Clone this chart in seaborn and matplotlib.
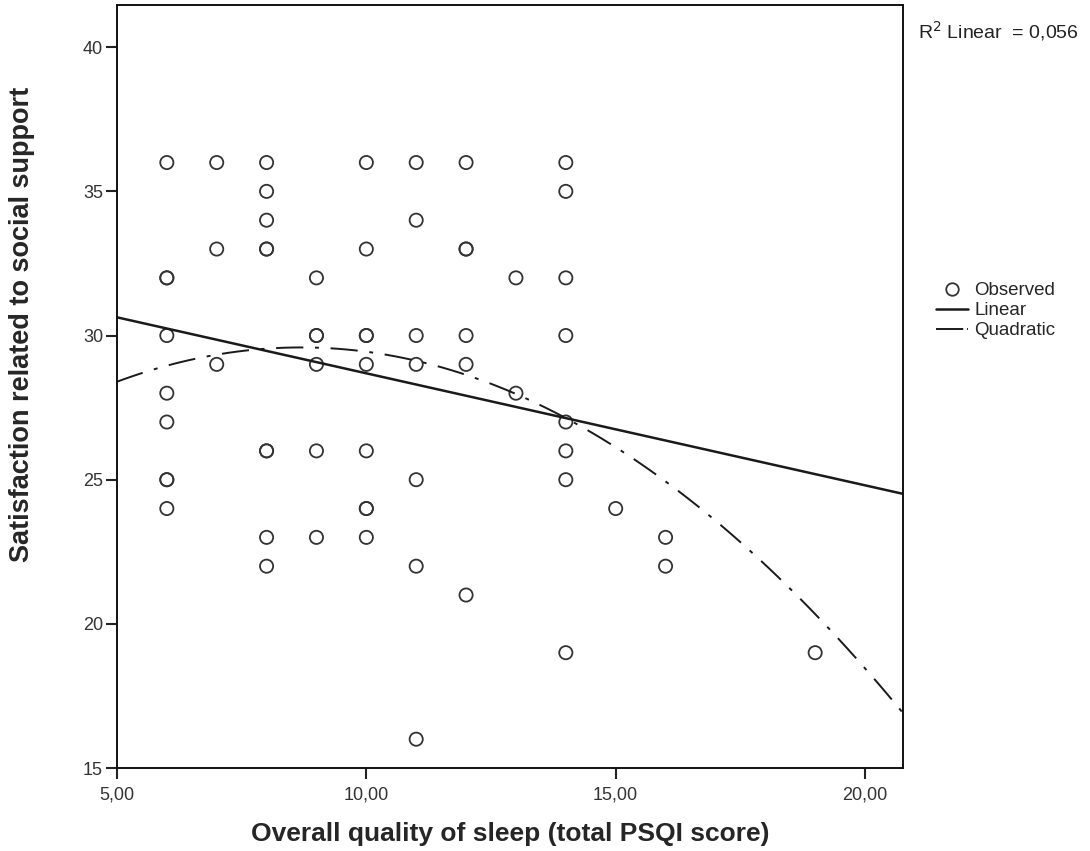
import numpy as np
import pandas as pd
import seaborn as sns
import matplotlib.pyplot as plt
from matplotlib.lines import Line2D

# PSQI 총점별 관측값 (겹친 점은 두 번 넣음)
psqi = [6] * 9 + [7] * 3 + [8] * 9 + [9] * 6 + [10] * 9 + [11] * 7 + [12] * 6 + [13] * 2 + [14] * 8 + [15] + [16] * 2 + [19]
support = [36, 32, 32, 30, 28, 27, 25, 25, 24,
           36, 33, 29,
           36, 35, 34, 33, 33, 26, 26, 23, 22,
           32, 30, 30, 29, 26, 23,
           36, 33, 30, 30, 29, 26, 24, 24, 23,
           36, 34, 30, 29, 25, 22, 16,
           36, 33, 33, 30, 29, 21,
           32, 28,
           36, 35, 32, 30, 27, 26, 25, 19,
           24,
           23, 22,
           19]
r2_text = 'R$^2$ Linear  = 0,056'
x_ticks = [5, 10, 15, 20]
y_ticks = [15, 20, 25, 30, 35, 40]

df = pd.DataFrame({'psqi': psqi, 'support': support})

sns.set_style('white')
plt.rcParams['font.family'] = ['Liberation Sans', 'DejaVu Sans']

fig = plt.figure(figsize=(10.9, 8.51), dpi=100)
ax = fig.add_axes([0.1073, 0.0975, 0.7211, 0.8965])
ax.set_xlim(5, 20.76)
ax.set_ylim(15, 41.46)

dash_dot = (0, (14, 6, 2, 6))

sns.scatterplot(data=df, x='psqi', y='support', ax=ax, marker='o', s=90,
                facecolor='none', edgecolor='#333333', linewidth=1.3, legend=False)
sns.regplot(data=df, x='psqi', y='support', ax=ax, scatter=False, ci=None, truncate=False,
            line_kws={'color': '#1a1a1a', 'lw': 1.8})
sns.regplot(data=df, x='psqi', y='support', ax=ax, scatter=False, ci=None, truncate=False, order=2,
            line_kws={'color': '#1a1a1a', 'lw': 1.4, 'ls': dash_dot})

ax.set_xticks(x_ticks)
ax.set_xticklabels([f'{t:.2f}'.replace('.', ',') for t in x_ticks])
ax.set_yticks(y_ticks)
ax.tick_params(axis='both', bottom=True, left=True, direction='out', length=8, width=1.5,
               labelsize=13, colors='#222222', pad=2)
ax.tick_params(axis='x', pad=5)
ax.tick_params(axis='both', labelcolor='#333333')
for sp in ax.spines.values():
    sp.set_color('#111111')
    sp.set_linewidth(1.4)

ax.set_xlabel('Overall quality of sleep (total PSQI score)', fontsize=19, fontweight='bold')
ax.set_ylabel('Satisfaction related to social support', fontsize=19.5, fontweight='bold')
ax.xaxis.set_label_coords(0.5, -0.071)
ax.yaxis.set_label_coords(-0.104, 0.582)

fig.text(0.842, 0.963, r2_text, fontsize=14, color='#222222', ha='left', va='center')

handles = [Line2D([], [], marker='o', ls='none', markerfacecolor='none', markeredgecolor='#333333',
                  markersize=9, markeredgewidth=1.3),
           Line2D([], [], color='#1a1a1a', lw=1.8),
           Line2D([], [], color='#1a1a1a', lw=1.4, ls=(0, (14, 2, 1, 2)))]
fig.legend(handles, ['Observed', 'Linear', 'Quadratic'], loc='upper left',
           bbox_to_anchor=(0.852, 0.677), frameon=False, fontsize=13.5,
           handlelength=1.7, handletextpad=0.35, labelspacing=0.15, borderaxespad=0)

fig.savefig('out.png', dpi=100)
